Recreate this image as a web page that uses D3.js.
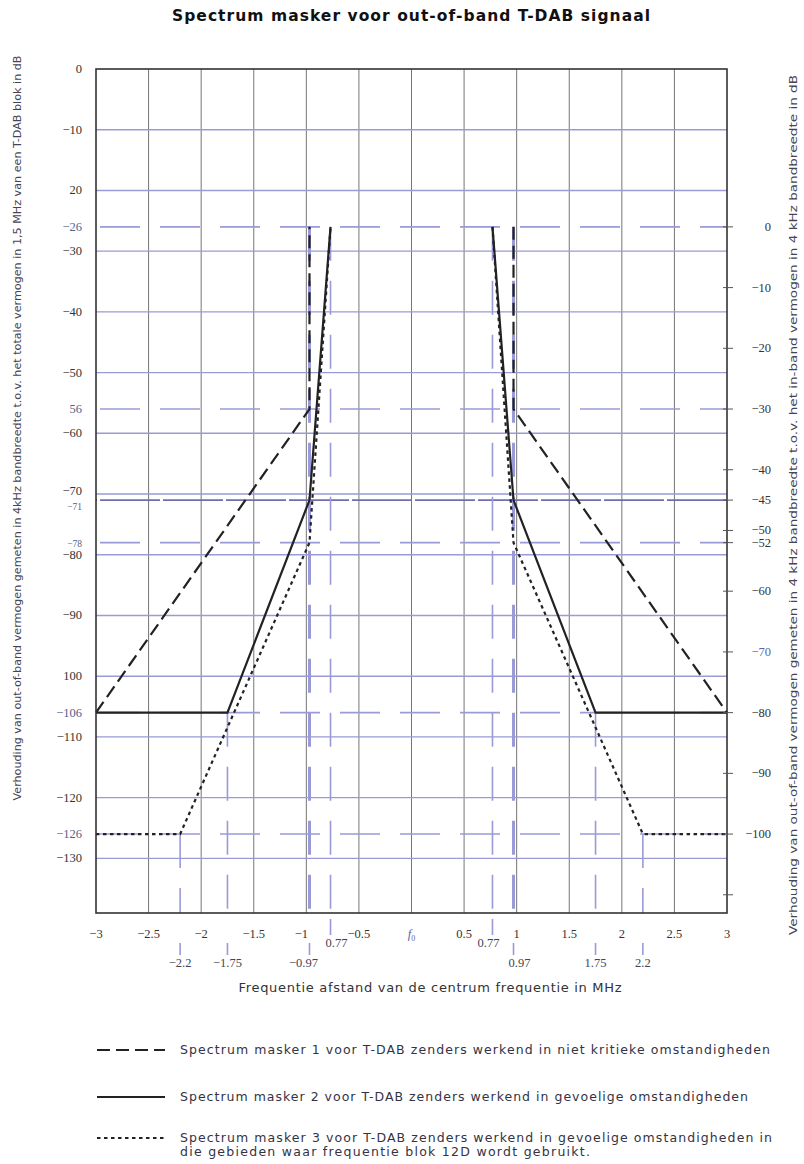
<!DOCTYPE html>
<html><head><meta charset="utf-8">
<script src="https://cdn.jsdelivr.net/npm/d3@7"></script>
<style>body{margin:0;background:#fff}svg{display:block}</style>
</head><body>
<svg id="c" width="804" height="1164"></svg>
<script>
// ---------- data ----------
const xTicks = [-3,-2.5,-2,-1.5,-1,-0.5,0,0.5,1,1.5,2,2.5,3];
const xTickLabels = ["−3","−2.5","−2","−1.5","−1","−0.5","f0","0.5","1","1.5","2","2.5","3"];
const leftTicks = [0,-10,-20,-26,-30,-40,-50,-56,-60,-70,-71,-78,-80,-90,-100,-106,-110,-120,-126,-130];
const leftTickLabels = ["0","−10","20","−26","−30","−40","−50","56","−60","−70","−71","−78","−80","−90","100","−106","−110","−120","−126","−130"];
const gridLevels = [-10,-20,-30,-40,-50,-60,-70,-80,-90,-100,-110,-120,-130];
const refLevels = [-26,-56,-71,-78,-106,-126];
const rightTicks = [0,-10,-20,-30,-40,-45,-50,-52,-60,-70,-80,-90,-100,-110];
const rightTickLabels = ["0","−10","−20","−30","−40","−45","−50","−52","−60","−70","−80","−90","−100",""];
const specialFreqs = [-2.2,-1.75,-0.97,-0.77,0.77,0.97,1.75,2.2];
const specialFrom = [-126,-106,-26,-26,-26,-26,-106,-126];
const specialLabels = ["−2.2","−1.75","−0.97","0.77","0.77","0.97","1.75","2.2"];
const specialRow = [1,1,1,0,0,1,1,1];
// masks (null separates left and right branch)
const mask1Freq  = [-3,-0.97,-0.97,null,0.97,0.97,3];
const mask1Level = [-106,-56,-26,null,-26,-56,-106];
const mask2Freq  = [-3,-1.75,-0.97,-0.77,null,0.77,0.97,1.75,3];
const mask2Level = [-106,-106,-71,-26,null,-26,-71,-106,-106];
const mask3Freq  = [-3,-2.2,-0.97,-0.77,null,0.77,0.97,2.2,3];
const mask3Level = [-126,-126,-78,-26,null,-26,-78,-126,-126];
const legendTexts = [
 ["Spectrum masker 1 voor T-DAB zenders werkend in niet kritieke omstandigheden"],
 ["Spectrum masker 2 voor T-DAB zenders werkend in gevoelige omstandigheden"],
 ["Spectrum masker 3 voor T-DAB zenders werkend in gevoelige omstandigheden in","die gebieden waar frequentie blok 12D wordt gebruikt."]
];
const titleText = "Spectrum masker voor out-of-band T-DAB signaal";
const xTitle = "Frequentie afstand van de centrum frequentie in MHz";
const yLeftTitle = "Verhouding van out-of-band vermogen gemeten in 4kHz bandbreedte t.o.v. het totale vermogen in 1,5 MHz van een T-DAB blok in dB";
const yRightTitle = "Verhouding van out-of-band vermogen gemeten in 4 kHz bandbreedte t.o.v. het in-band vermogen in 4 kHz bandbreedte in dB";

// ---------- layout ----------
const L=96, R=727, T=69, B=913;
const x = d3.scaleLinear().domain([-3,3]).range([L,R]);
const y = d3.scaleLinear().domain([0,-139]).range([T,B]);
const yR = d3.scaleLinear().domain([26,-113]).range([T,B]);
const svg = d3.select("#c");
const BLUE="#9a9ad8", DARK="#222", GRID="#666";
const serif="'Liberation Serif','Times New Roman',serif";
const sans="'DejaVu Sans',Verdana,sans-serif";

// title
svg.append("text").attr("x",411).attr("y",21).attr("text-anchor","middle")
  .attr("font-family",sans).attr("font-weight","bold").attr("font-size",15.5)
  .attr("textLength",478).attr("lengthAdjust","spacing").attr("fill","#111").text(titleText);

const g = svg.append("g");
// vertical grid
g.selectAll(".vg").data(xTicks.slice(1,-1)).join("line")
  .attr("x1",d=>x(d)).attr("x2",d=>x(d)).attr("y1",T).attr("y2",B)
  .attr("stroke",GRID).attr("stroke-width",0.9);
// horizontal grid
g.selectAll(".hg").data(gridLevels).join("line")
  .attr("x1",L).attr("x2",R).attr("y1",d=>y(d)).attr("y2",d=>y(d))
  .attr("stroke",BLUE).attr("stroke-width",1.4);
// reference dashed levels
g.selectAll(".rl").data(refLevels).join("line")
  .attr("x1",L).attr("x2",R).attr("y1",d=>y(d)).attr("y2",d=>y(d))
  .attr("stroke",d=>d===-71?"#7070a8":BLUE).attr("stroke-width",1.6)
  .attr("stroke-dasharray",d=>d===-71?"60,3":"40,20").attr("stroke-dashoffset",-4);
// special vertical drop lines inside plot
g.selectAll(".sv").data(specialFreqs).join("line")
  .attr("x1",d=>x(d)).attr("x2",d=>x(d))
  .attr("y1",(d,i)=>y(specialFrom[i])).attr("y2",B)
  .attr("stroke",BLUE).attr("stroke-width",(d,i)=>Math.abs(d)===0.97?3:1.6)
  .attr("stroke-dasharray","34,20");
// special vertical lines below axis
g.selectAll(".sb").data(specialFreqs).join("line")
  .attr("x1",d=>x(d)).attr("x2",d=>x(d))
  .attr("y1",(d,i)=>specialRow[i]===0?B+6:B+30)
  .attr("y2",(d,i)=>specialRow[i]===0?B+22:B+42)
  .attr("stroke",BLUE).attr("stroke-width",1.6);
g.selectAll(".sl").data(specialLabels).join("text")
  .attr("x",(d,i)=>x(specialFreqs[i]) + (specialFreqs[i]===-0.77?6:specialFreqs[i]===0.77?-4:specialFreqs[i]===-0.97?-6:specialFreqs[i]===0.97?6:0))
  .attr("y",(d,i)=>specialRow[i]===0?B+34:B+54)
  .attr("text-anchor","middle").attr("font-family",serif).attr("font-size",12.5).attr("fill","#445")
  .text(d=>d);

// masks
function maskPath(fx,fy){
  const pts = fx.map((f,i)=>[f,fy[i]]);
  return d3.line().defined(p=>p[0]!==null).x(p=>x(p[0])).y(p=>y(p[1]))(pts);
}
g.append("path").attr("d",maskPath(mask1Freq,mask1Level)).attr("fill","none")
  .attr("stroke",DARK).attr("stroke-width",2.2).attr("stroke-dasharray","13,6");
g.append("path").attr("d",maskPath(mask2Freq,mask2Level)).attr("fill","none")
  .attr("stroke",DARK).attr("stroke-width",2.2);
g.append("path").attr("d",maskPath(mask3Freq,mask3Level)).attr("fill","none")
  .attr("stroke",DARK).attr("stroke-width",2.2).attr("stroke-dasharray","3.5,3.5");

// frame
g.append("rect").attr("x",L).attr("y",T).attr("width",R-L).attr("height",B-T)
  .attr("fill","none").attr("stroke","#333").attr("stroke-width",1.6);

// left ticks labels
svg.selectAll(".lt").data(leftTicks).join("text")
  .attr("x",82).attr("y",d=>y(d)+(d===-70?1:d===-71?10:4)).attr("text-anchor","end")
  .attr("font-family",serif).attr("font-size",d=>(d===-71||d===-78)?9.5:12.5)
  .attr("fill",d=>refLevels.includes(d)?"#55608a":"#333").text((d,i)=>leftTickLabels[i]);

// right axis ticks
svg.selectAll(".rt").data(rightTicks).join("line")
  .attr("x1",R-4).attr("x2",R+6).attr("y1",d=>yR(d)).attr("y2",d=>yR(d))
  .attr("stroke","#555").attr("stroke-width",1);
svg.selectAll(".rtl").data(rightTicks).join("text")
  .attr("x",771).attr("y",d=>yR(d)+4).attr("text-anchor","end")
  .attr("font-family",serif).attr("font-size",12.5).attr("fill",d=>d===-70?"#5566aa":"#333")
  .text((d,i)=>rightTickLabels[i]);

// bottom tick labels
const bt = svg.selectAll(".bt").data(xTicks).join("text")
  .attr("x",d=>x(d)+(d===-1?-5:0)).attr("y",B+25).attr("text-anchor","middle")
  .attr("font-family",serif).attr("font-size",12.5).attr("fill","#333");
bt.each(function(d,i){
  const t=d3.select(this);
  if(xTickLabels[i]==="f0"){
    t.attr("fill","#5566aa");
    t.append("tspan").attr("font-style","italic").text("f");
    t.append("tspan").attr("font-size",8).attr("dy",3).text("0");
  } else t.text(xTickLabels[i]);
});

// axis titles
svg.append("text").attr("x",430).attr("y",992).attr("text-anchor","middle")
  .attr("font-family",sans).attr("font-size",13).attr("textLength",383).attr("lengthAdjust","spacing")
  .attr("fill","#333").text(xTitle);
svg.append("text").attr("transform","translate(21,428) rotate(-90)").attr("text-anchor","middle")
  .attr("font-family",sans).attr("font-size",10.5).attr("fill","#445")
  .attr("textLength",745).attr("lengthAdjust","spacingAndGlyphs").text(yLeftTitle);
svg.append("text").attr("transform","translate(797,505) rotate(-90)").attr("text-anchor","middle")
  .attr("font-family",sans).attr("font-size",10.5).attr("fill","#445")
  .attr("textLength",860).attr("lengthAdjust","spacingAndGlyphs").text(yRightTitle);

// legend
const legY=[1050,1097,1138];
const legDash=["13,6",null,"3.5,3.5"];
const legLen=[[590],[568],[592,410]];
legY.forEach((ly,i)=>{
  svg.append("line").attr("x1",97).attr("x2",165).attr("y1",ly).attr("y2",ly)
    .attr("stroke",DARK).attr("stroke-width",2.2).attr("stroke-dasharray",legDash[i]);
  legendTexts[i].forEach((s,j)=>{
    svg.append("text").attr("x",180).attr("y",ly+4+j*14).attr("font-family",sans)
      .attr("font-size",12.5).attr("textLength",legLen[i][j]).attr("lengthAdjust","spacing")
      .attr("fill","#334").text(s);
  });
});
</script>
</body></html>
